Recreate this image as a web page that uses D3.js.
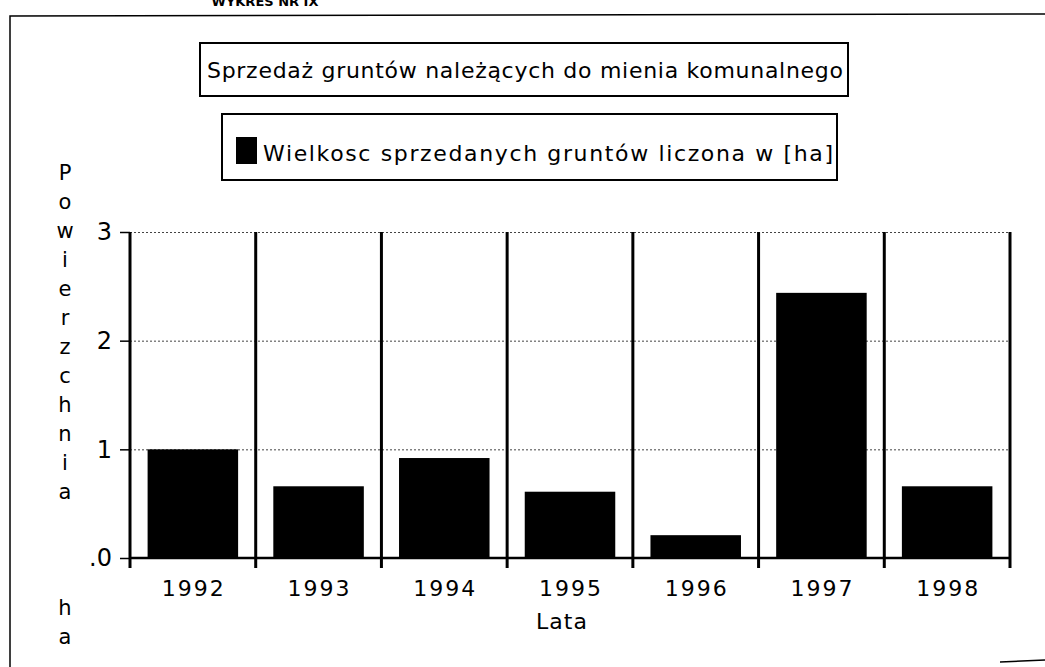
<!DOCTYPE html>
<html lang="pl">
<head>
    <meta charset="utf-8">
    <script src="https://d3js.org/d3.v7.min.js"></script>
    <style>
        body { margin: 0; background: white; }
        svg text { font-family: "DejaVu Sans", sans-serif; fill: black; }
        .grid line { stroke: #444; stroke-dasharray: 2, 2; stroke-width: 1; }
        .grid .domain { stroke: none; }
    </style>
</head>
<body>
    <svg id="chart" width="1045" height="667"></svg>
    <script>
        // values
        const years = ["1992", "1993", "1994", "1995", "1996", "1997", "1998"];
        const area = [1.0, 0.66, 0.92, 0.61, 0.21, 2.44, 0.66];
        const yTicks = [0, 1, 2, 3];
        const yTickLabels = [".0", "1", "2", "3"];
        const yLabel = "Powierzchnia   ha";

        const svg = d3.select("svg#chart");
        const margins = { top: 232, right: 35, bottom: 109, left: 130 };
        const width = +svg.attr("width");
        const height = +svg.attr("height");
        const plotW = width - margins.left - margins.right;
        const plotH = height - margins.top - margins.bottom;

        // outer frame of the page
        svg.append("path")
            .attr("d", "M10,667 L10,16 L1045,14")
            .attr("fill", "none").attr("stroke", "black").attr("stroke-width", 1.5);
        svg.append("line")
            .attr("x1", 1000).attr("x2", 1045).attr("y1", 662).attr("y2", 660)
            .attr("stroke", "black").attr("stroke-width", 1.5);

        svg.append("text")
            .attr("x", 265).attr("y", 6)
            .attr("text-anchor", "middle")
            .style("font-size", "13px").style("font-weight", "bold")
            .text("WYKRES NR IX");

        // title box
        svg.append("rect")
            .attr("x", 200).attr("y", 43).attr("width", 648).attr("height", 53)
            .attr("fill", "white").attr("stroke", "black").attr("stroke-width", 2);
        svg.append("text")
            .attr("x", 207).attr("y", 78)
            .attr("textLength", 636).attr("lengthAdjust", "spacing")
            .style("font-size", "22px")
            .text("Sprzedaż gruntów należących do mienia komunalnego");

        // legend box
        svg.append("rect")
            .attr("x", 222).attr("y", 114).attr("width", 615).attr("height", 66)
            .attr("fill", "white").attr("stroke", "black").attr("stroke-width", 2);
        svg.append("rect")
            .attr("x", 236).attr("y", 137).attr("width", 21).attr("height", 27)
            .attr("fill", "black");
        svg.append("text")
            .attr("x", 263).attr("y", 161)
            .attr("textLength", 570).attr("lengthAdjust", "spacing")
            .style("font-size", "22px")
            .text("Wielkosc sprzedanych gruntów liczona w [ha]");

        const g = svg.append("g")
            .attr("transform", `translate(${margins.left},${margins.top})`);

        const x = d3.scaleBand()
            .domain(years)
            .range([0, plotW]);

        const y = d3.scaleLinear()
            .domain([0, 3])
            .range([plotH, 0]);

        // dotted gridlines
        g.append("g")
            .attr("class", "grid")
            .call(d3.axisLeft(y).tickValues(yTicks.slice(1)).tickSize(-plotW).tickFormat(""));

        // bars
        g.selectAll("rect.bar")
            .data(area)
            .join("rect")
            .attr("class", "bar")
            .attr("x", (d, i) => x(years[i]) + x.bandwidth() * 0.14)
            .attr("width", x.bandwidth() * 0.72)
            .attr("y", d => y(d))
            .attr("height", d => plotH - y(d))
            .attr("fill", "black");

        // thick category separators
        const seps = years.map(d => x(d)).concat([plotW]);
        g.selectAll("line.sep")
            .data(seps)
            .join("line")
            .attr("class", "sep")
            .attr("x1", d => d).attr("x2", d => d)
            .attr("y1", 0).attr("y2", plotH + 10)
            .attr("stroke", "black").attr("stroke-width", 3);

        // baseline
        g.append("line")
            .attr("x1", 0).attr("x2", plotW)
            .attr("y1", plotH).attr("y2", plotH)
            .attr("stroke", "black").attr("stroke-width", 2.5);

        // y axis ticks and labels
        const yAxis = g.append("g")
            .call(d3.axisLeft(y).tickValues(yTicks).tickSize(10).tickPadding(8)
                .tickFormat((d, i) => yTickLabels[i]));
        yAxis.select(".domain").remove();
        yAxis.selectAll(".tick line").attr("stroke-width", 1.5);
        yAxis.selectAll("text")
            .style("font-size", "24px").style("font-family", "DejaVu Sans, sans-serif");

        // x labels
        g.selectAll("text.year")
            .data(years)
            .join("text")
            .attr("class", "year")
            .attr("x", d => x(d) + x.bandwidth() / 2 + 1)
            .attr("y", plotH + 38)
            .attr("text-anchor", "middle")
            .style("font-size", "22px")
            .style("letter-spacing", "2px")
            .text(d => d);

        g.append("text")
            .attr("x", plotW / 2 - 8)
            .attr("y", plotH + 71)
            .attr("text-anchor", "middle")
            .style("font-size", "22px")
            .style("letter-spacing", "1px")
            .text("Lata");

        // vertical axis title, one letter per line
        const yl = svg.append("text")
            .attr("x", 65).attr("y", 180)
            .attr("text-anchor", "middle")
            .style("font-size", "21px");
        yl.selectAll("tspan")
            .data(yLabel.split(""))
            .join("tspan")
            .attr("x", 65)
            .attr("dy", (d, i) => i === 0 ? 0 : 29)
            .text(d => d === " " ? "\u00a0" : d);
    </script>
</body>
</html>
